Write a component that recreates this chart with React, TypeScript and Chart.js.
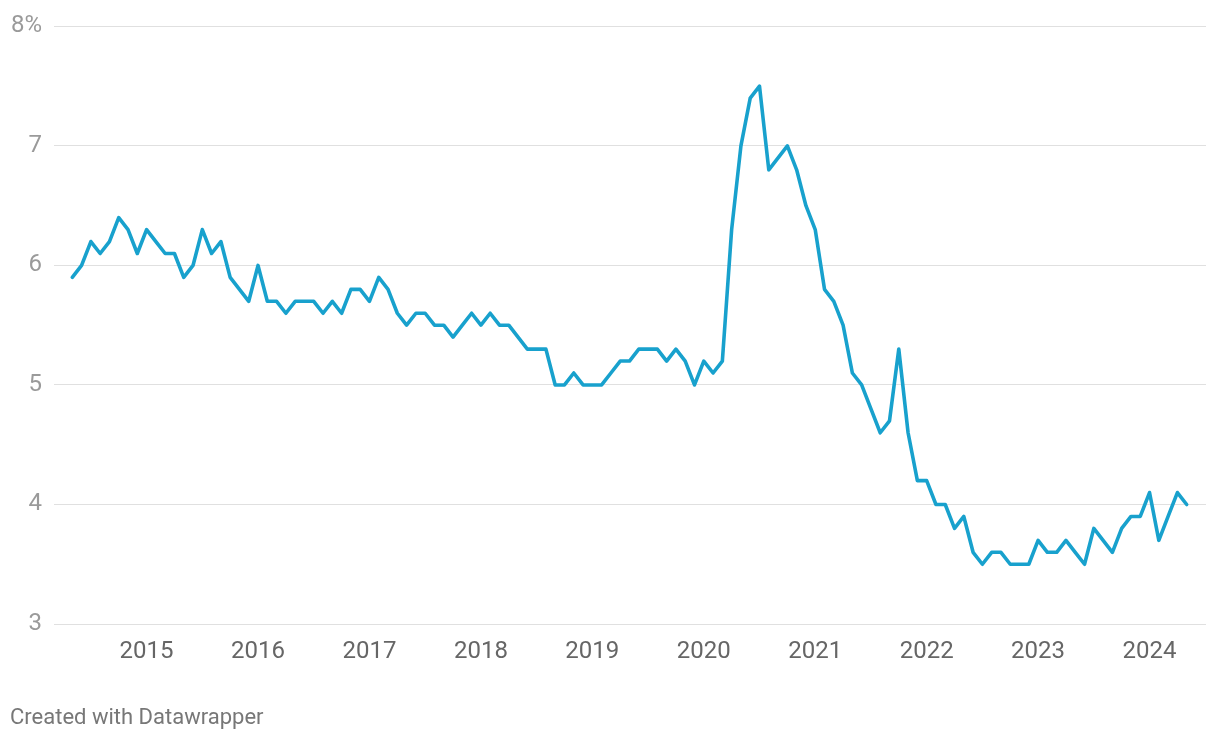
import React, { useEffect, useRef } from "react";
import { Chart, registerables } from "chart.js";

Chart.register(...registerables);

// Monthly values, May 2014 – May 2024 (percent)
const startYear = 2014;
const startMonth = 5; // May
const values2014: number[] = [5.9, 6.0, 6.2, 6.1, 6.2, 6.4, 6.3, 6.1];
const values2015: number[] = [6.3, 6.2, 6.1, 6.1, 5.9, 6.0, 6.3, 6.1, 6.2, 5.9, 5.8, 5.7];
const values2016: number[] = [6.0, 5.7, 5.7, 5.6, 5.7, 5.7, 5.7, 5.6, 5.7, 5.6, 5.8, 5.8];
const values2017: number[] = [5.7, 5.9, 5.8, 5.6, 5.5, 5.6, 5.6, 5.5, 5.5, 5.4, 5.5, 5.6];
const values2018: number[] = [5.5, 5.6, 5.5, 5.5, 5.4, 5.3, 5.3, 5.3, 5.0, 5.0, 5.1, 5.0];
const values2019: number[] = [5.0, 5.0, 5.1, 5.2, 5.2, 5.3, 5.3, 5.3, 5.2, 5.3, 5.2, 5.0];
const values2020: number[] = [5.2, 5.1, 5.2, 6.3, 7.0, 7.4, 7.5, 6.8, 6.9, 7.0, 6.8, 6.5];
const values2021: number[] = [6.3, 5.8, 5.7, 5.5, 5.1, 5.0, 4.8, 4.6, 4.7, 5.3, 4.6, 4.2];
const values2022: number[] = [4.2, 4.0, 4.0, 3.8, 3.9, 3.6, 3.5, 3.6, 3.6, 3.5, 3.5, 3.5];
const values2023: number[] = [3.7, 3.6, 3.6, 3.7, 3.6, 3.5, 3.8, 3.7, 3.6, 3.8, 3.9, 3.9];
const values2024: number[] = [4.1, 3.7, 3.9, 4.1, 4.0];

const yearTicks: number[] = [2015, 2016, 2017, 2018, 2019, 2020, 2021, 2022, 2023, 2024];
const yTicks: number[] = [3, 4, 5, 6, 7, 8];

const allValues: number[] = [
  ...values2014, ...values2015, ...values2016, ...values2017, ...values2018,
  ...values2019, ...values2020, ...values2021, ...values2022, ...values2023, ...values2024,
];

// month index 0 = May 2014
const monthIndexOfJan = (year: number) => (year - startYear) * 12 - (startMonth - 1);

export default function App() {
  const canvasRef = useRef<HTMLCanvasElement | null>(null);

  useEffect(() => {
    if (!canvasRef.current) return;
    const data = allValues.map((v, i) => ({ x: i, y: v }));
    const chart = new Chart(canvasRef.current, {
      type: "line",
      data: {
        datasets: [
          {
            data,
            borderColor: "#18a1cd",
            borderWidth: 3.6,
            pointRadius: 0,
            tension: 0,
            fill: false,
            borderJoinStyle: "round",
            borderCapStyle: "round",
          },
        ],
      },
      options: {
        animation: false,
        responsive: false,
        maintainAspectRatio: false,
        layout: { padding: { left: 0, right: 14, top: 24, bottom: 0 } },
        plugins: {
          legend: { display: false },
          tooltip: { enabled: false },
        },
        scales: {
          x: {
            type: "linear",
            min: -1.97,
            max: 122.08,
            grid: { display: false, drawTicks: false },
            border: { display: false },
            afterBuildTicks: (scale: any) => {
              scale.ticks = yearTicks.map((y) => ({ value: monthIndexOfJan(y) }));
            },
            afterFit: (scale: any) => {
              scale.height = 116;
            },
            ticks: {
              autoSkip: false,
              maxRotation: 0,
              padding: 14,
              color: "#666666",
              font: { family: "Roboto", size: 24 },
              callback: (v: any) => String(startYear + Math.round((Number(v) + startMonth - 1) / 12)),
            },
          },
          y: {
            type: "linear",
            min: 3,
            max: 8,
            afterBuildTicks: (scale: any) => {
              scale.ticks = yTicks.map((v) => ({ value: v }));
            },
            afterFit: (scale: any) => {
              scale.width = 54;
            },
            grid: { color: "#e0e0e0", lineWidth: 1, drawTicks: false },
            border: { display: false },
            ticks: {
              padding: 12,
              color: "#9a9a9a",
              font: { family: "Roboto", size: 24 },
              callback: (v: any) => (Number(v) === 8 ? "8%" : String(v)),
            },
          },
        },
      },
    });
    return () => chart.destroy();
  }, []);

  return (
    <div style={{ position: "absolute", left: 0, top: 0, width: 1220, height: 740, background: "#ffffff" }}>
      <canvas ref={canvasRef} width={1220} height={740} style={{ position: "absolute", left: 0, top: 0 }} />
      <div
        style={{
          position: "absolute",
          left: 10,
          top: 704,
          fontFamily: "Roboto",
          fontSize: 22,
          lineHeight: "26px",
          color: "#777777",
          whiteSpace: "nowrap",
        }}
      >
        Created with Datawrapper
      </div>
    </div>
  );
}
